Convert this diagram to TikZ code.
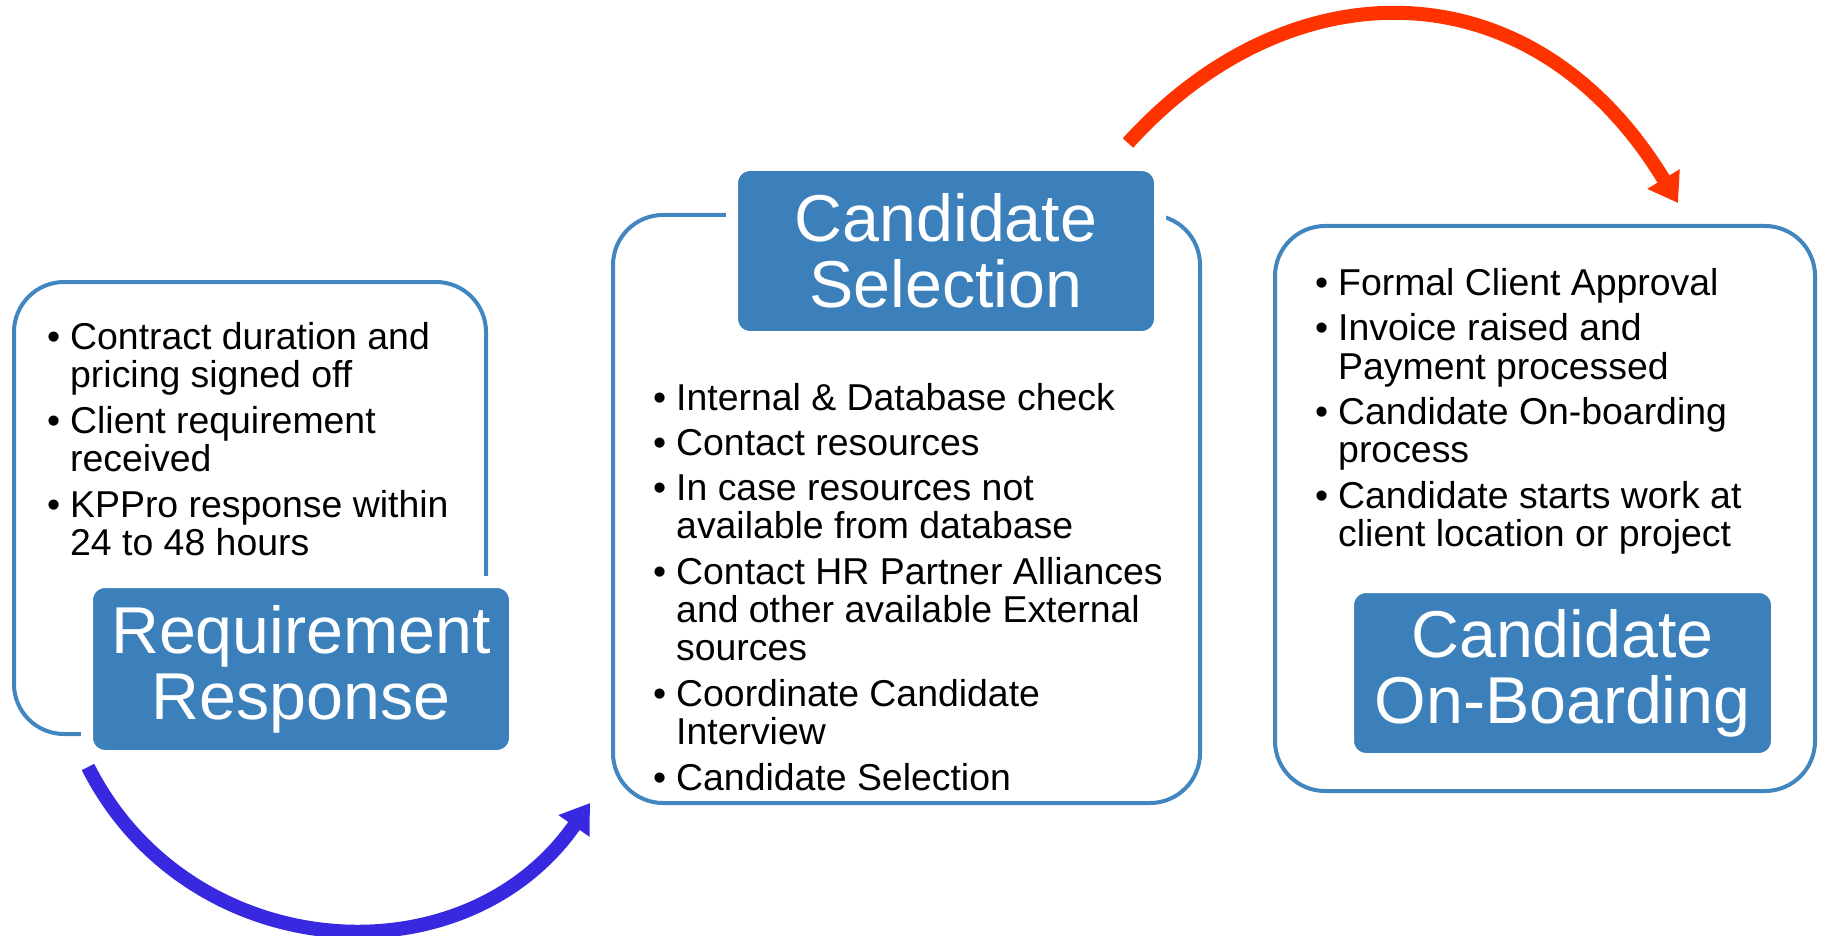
\documentclass[tikz,border=0pt]{standalone}
\usepackage{fontspec}
\setmainfont{Liberation Sans}
\usetikzlibrary{arrows.meta}

\definecolor{kpblue}{RGB}{59,128,187}
\definecolor{kpline}{RGB}{66,134,192}
\definecolor{arrowblue}{RGB}{56,40,224}
\definecolor{arrowred}{RGB}{255,51,0}

\newcommand{\kpbul}{\makebox[23pt][l]{\textbullet}}
\newcommand{\kpind}{\hspace*{23pt}}

\begin{document}
\begin{tikzpicture}[x=1pt,y=-1pt,
    outline/.style={draw=kpline,line width=4pt,rounded corners=50pt,inner sep=0pt},
    title/.style={fill=kpblue,draw=white,line width=12pt,rounded corners=18pt,
        text=white,align=center,inner sep=0pt,font=\fontsize{66.3}{66}\selectfont},
    itemlist/.style={anchor=base west,inner sep=0pt,font=\fontsize{37.4}{38}\selectfont},
    flow/.style={line width=14pt,-{Triangle[width=36pt,length=28pt]}}]
    \useasboundingbox (0,0) rectangle (1823,936);

    % outer frames
    \node[outline,minimum width=472pt,minimum height=452pt] (reqbox) at (250,508) {};
    \node[outline,minimum width=587pt,minimum height=588pt] (selbox) at (906.5,509) {};
    \node[outline,minimum width=540pt,minimum height=565pt] (onbbox) at (1545,508.5) {};

    % stage titles
    \node[title,minimum width=428pt,minimum height=174pt] (reqtitle) at (301,669) {Requirement\\Response};
    \node[title,minimum width=428pt,minimum height=172pt] (seltitle) at (946,251) {Candidate\\Selection};
    \node[title,minimum width=429pt,minimum height=172pt] (onbtitle) at (1562.5,673) {Candidate\\On-Boarding};

    % bullet lists
    \node[itemlist] (reqlist) at (47,349) {\begin{tabular}[t]{@{}l@{}}
        \kpbul Contract duration and\\
        \kpind pricing signed off\\[7pt]
        \kpbul Client requirement\\
        \kpind received\\[7pt]
        \kpbul KPPro response within\\
        \kpind 24 to 48 hours
    \end{tabular}};
    \node[itemlist] (sellist) at (653,410) {\begin{tabular}[t]{@{}l@{}}
        \kpbul Internal \& Database check\\[7pt]
        \kpbul Contact resources\\[7pt]
        \kpbul In case resources not\\
        \kpind available from database\\[7pt]
        \kpbul Contact HR Partner Alliances\\
        \kpind and other available External\\
        \kpind sources\\[7pt]
        \kpbul Coordinate Candidate\\
        \kpind Interview\\[7pt]
        \kpbul Candidate Selection
    \end{tabular}};
    \node[itemlist] (onblist) at (1315,295) {\begin{tabular}[t]{@{}l@{}}
        \kpbul Formal Client Approval\\[7pt]
        \kpbul Invoice raised and\\
        \kpind Payment processed\\[7pt]
        \kpbul Candidate On-boarding\\
        \kpind process\\[7pt]
        \kpbul Candidate starts work at\\
        \kpind client location or project
    \end{tabular}};

    % flow arrows
    \coordinate (bluestart) at (88,767);
    \coordinate (blueend) at (590,803);
    \coordinate (redstart) at (1128,143);
    \coordinate (redend) at (1678,203);
    \draw[flow,arrowblue] (bluestart) .. controls (188,965) and (463,985) .. (blueend);
    \draw[flow,arrowred] (redstart) .. controls (1289,-35) and (1532,-38) .. (redend);
\end{tikzpicture}
\end{document}
